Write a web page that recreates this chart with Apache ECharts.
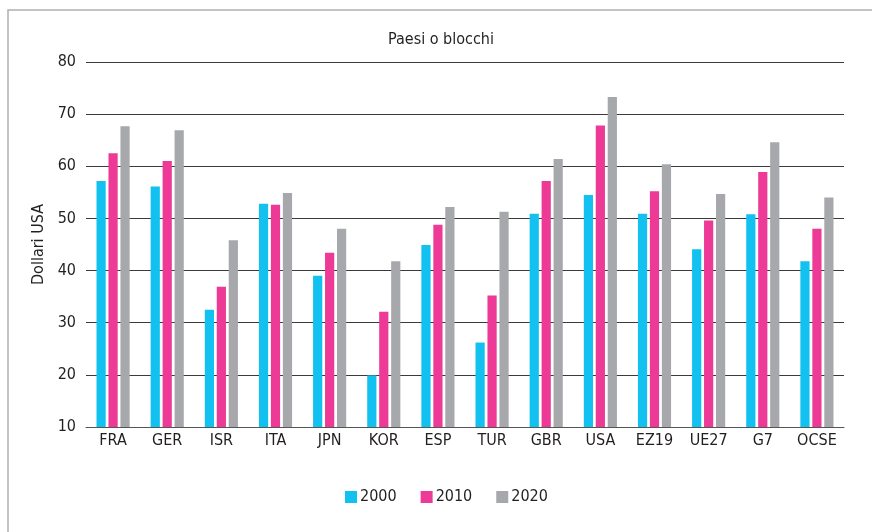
<!DOCTYPE html>
<html>
<head>
<meta charset="utf-8">
<script src="https://cdn.jsdelivr.net/npm/echarts@6/dist/echarts.min.js"></script>
<style>
  html, body { margin: 0; padding: 0; background: #fff; }
  #chart { width: 872px; height: 532px; }
</style>
</head>
<body>
<div id="chart"></div>
<script>
// categorie (paesi o blocchi)
var paesi = ['FRA', 'GER', 'ISR', 'ITA', 'JPN', 'KOR', 'ESP', 'TUR', 'GBR', 'USA', 'EZ19', 'UE27', 'G7', 'OCSE'];
// valori in dollari USA
var anno2000 = [57.2, 56.1, 32.5, 52.8, 39.0, 19.9, 44.9, 26.2, 50.9, 54.5, 50.9, 44.1, 50.8, 41.8];
var anno2010 = [62.5, 61.0, 36.9, 52.6, 43.4, 32.1, 48.8, 35.2, 57.2, 67.8, 55.2, 49.6, 58.9, 48.0];
var anno2020 = [67.7, 66.9, 45.8, 54.9, 48.0, 41.8, 52.2, 51.3, 61.4, 73.3, 60.4, 54.7, 64.6, 54.0];
var anni = ['2000', '2010', '2020'];

var font = '"Liberation Sans Narrow", "DejaVu Sans Condensed", sans-serif';
var testo = '#231f20';

var chart = echarts.init(document.getElementById('chart'), null, { renderer: 'canvas' });
var option = {
    animation: false,
    color: ['#13c1f0', '#ee3a97', '#a7a8ac'],
    textStyle: { fontFamily: font },
    title: {
        text: 'Paesi o blocchi',
        left: 436,
        textAlign: 'center',
        top: 27,
        textStyle: { fontFamily: font, fontSize: 16, fontWeight: 'normal', color: testo }
    },
    graphic: [{
        type: 'polyline',
        shape: { points: [[8, 540], [8, 10], [880, 10]] },
        style: { stroke: '#b0b0b0', lineWidth: 1.5, fill: null },
        silent: true
    }],
    legend: {
        data: anni,
        bottom: 22,
        left: 340,
        itemWidth: 12,
        itemHeight: 12,
        itemGap: 24,
        icon: 'rect',
        textStyle: { fontFamily: font, fontSize: 16, color: testo, padding: [0, 0, 0, -2] }
    },
    grid: { left: 86, right: 28, top: 62, bottom: 105, containLabel: false },
    xAxis: {
        type: 'category',
        data: paesi,
        axisTick: { show: false },
        axisLine: { lineStyle: { color: '#555', width: 1 } },
        axisLabel: { fontFamily: font, fontSize: 16, color: testo, margin: 6 }
    },
    yAxis: {
        type: 'value',
        min: 10,
        max: 80,
        interval: 10,
        name: 'Dollari USA',
        nameLocation: 'middle',
        nameGap: 39,
        nameTextStyle: { fontFamily: font, fontSize: 16, color: testo },
        axisLine: { show: false },
        axisTick: { show: false },
        axisLabel: { fontFamily: font, fontSize: 16, color: testo, margin: 10 },
        splitLine: { lineStyle: { color: '#3a3a3a', width: 1 } }
    },
    series: [
        { name: anni[0], type: 'bar', data: anno2000, barWidth: '17%', barGap: '30%' },
        { name: anni[1], type: 'bar', data: anno2010, barWidth: '17%', barGap: '30%' },
        { name: anni[2], type: 'bar', data: anno2020, barWidth: '17%', barGap: '30%' }
    ]
};
chart.setOption(option);
</script>
</body>
</html>
